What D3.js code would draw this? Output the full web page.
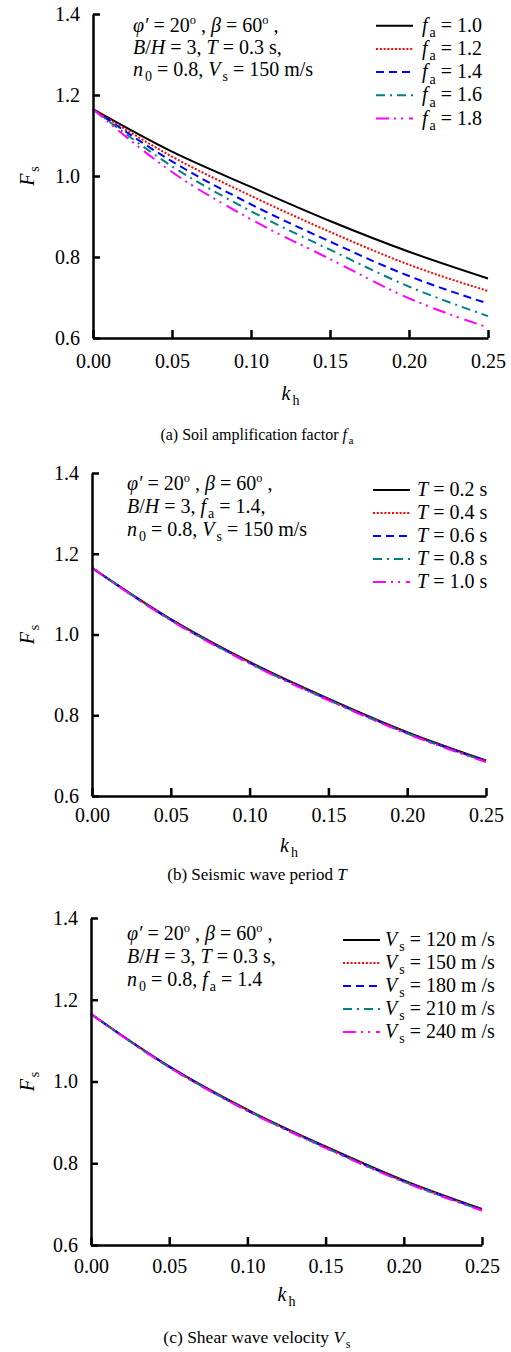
<!DOCTYPE html>
<html>
<head>
<meta charset="utf-8">
<script src="https://cdn.jsdelivr.net/npm/d3@7"></script>
<style>
  html, body { margin: 0; padding: 0; background: #fff; }
  svg { display: block; }
  text { font-family: "Liberation Serif", "Times New Roman", serif; fill: #000; }
</style>
</head>
<body>
<svg id="fig" width="511" height="1352"></svg>
<script>
// Horizontal seismic coefficient k_h (x values shared by every curve)
const kh = [0, 0.05, 0.10, 0.15, 0.20, 0.25];
const xTicks = [0, 0.05, 0.10, 0.15, 0.20, 0.25];
const yTicks = [0.6, 0.8, 1.0, 1.2, 1.4];

// (a) Safety factor Fs for each soil amplification factor fa
const faLabels = ["1.0", "1.2", "1.4", "1.6", "1.8"];
const fsFa10 = [1.165, 1.060, 0.973, 0.889, 0.813, 0.747];
const fsFa12 = [1.165, 1.048, 0.951, 0.862, 0.781, 0.716];
const fsFa14 = [1.165, 1.036, 0.930, 0.838, 0.753, 0.685];
const fsFa16 = [1.165, 1.024, 0.913, 0.818, 0.727, 0.654];
const fsFa18 = [1.165, 1.010, 0.893, 0.795, 0.698, 0.626];

// (b) Safety factor Fs for each seismic wave period T
const periodLabels = ["0.2", "0.4", "0.6", "0.8", "1.0"];
const fsT02 = [1.165, 1.038, 0.932, 0.841, 0.758, 0.688];
const fsT04 = [1.165, 1.037, 0.931, 0.840, 0.757, 0.687];
const fsT06 = [1.165, 1.036, 0.930, 0.839, 0.756, 0.686];
const fsT08 = [1.165, 1.036, 0.929, 0.838, 0.755, 0.685];
const fsT10 = [1.165, 1.035, 0.928, 0.837, 0.754, 0.684];

// (c) Safety factor Fs for each shear wave velocity Vs
const vsLabels = ["120", "150", "180", "210", "240"];
const fsVs120 = [1.165, 1.037, 0.931, 0.841, 0.758, 0.688];
const fsVs150 = [1.165, 1.036, 0.930, 0.840, 0.757, 0.687];
const fsVs180 = [1.165, 1.036, 0.929, 0.839, 0.756, 0.686];
const fsVs210 = [1.165, 1.035, 0.929, 0.838, 0.755, 0.685];
const fsVs240 = [1.165, 1.035, 0.928, 0.837, 0.754, 0.684];

// Line styles, one per series in each panel
const styles = [
  { color: "#000000", dash: null },
  { color: "#ff0000", dash: "2,1.8" },
  { color: "#0000ff", dash: "8,5" },
  { color: "#008080", dash: "9,5,2,5" },
  { color: "#ff00ff", dash: "13,5,2,5,2,6" }
];

const FONT = 20;
const svg = d3.select("#fig");

// Write a line of rich text: segments are [text, kind] with kind "", "i", "sub", "sup"
function richText(g, x, y, segs, size, anchor) {
  const t = g.append("text").attr("x", x).attr("y", y)
    .attr("font-size", size).attr("text-anchor", anchor || "start");
  let shift = 0;
  segs.forEach(([s, kind]) => {
    const sp = t.append("tspan").text(s);
    let target = 0;
    if (kind === "i") sp.attr("font-style", "italic");
    if (kind === "sub") { target = size * 0.27; sp.attr("font-size", size * 0.7).attr("dx", size * 0.1); }
    if (kind === "sup") { target = -size * 0.4; sp.attr("font-size", size * 0.62); }
    if (target !== shift) { sp.attr("dy", target - shift); shift = target; }
  });
  return t;
}

const panels = [
  {
    x0: 93, x1: 488, yTop: 14, yBot: 338, xPad: 16, ylabX: 27, xlabY: 400, capY: 440, capSize: 16,
    series: [fsFa10, fsFa12, fsFa14, fsFa16, fsFa18],
    legend: faLabels.map(v => [["f", "i"], ["a", "sub"], [" = " + v, ""]]),
    legX0: 376, legX1: 413, legTextX: 422, legY0: 25.7, legDy: 23.2,
    noteX: 133, noteY0: 32, noteDy: 22,
    notes: [
      [["φ′", "i"], [" = 20", ""], ["o", "sup"], [" , ", ""], ["β", "i"], [" = 60", ""], ["o", "sup"], [" ,", ""]],
      [["B", "i"], ["/", ""], ["H", "i"], [" = 3, ", ""], ["T", "i"], [" = 0.3 s,", ""]],
      [["n", "i"], ["0", "sub"], [" = 0.8, ", ""], ["V", "i"], ["s", "sub"], [" = 150 m/s", ""]]
    ],
    caption: [["(a) Soil amplification factor ", ""], ["f", "i"], ["a", "sub"]]
  },
  {
    x0: 92, x1: 486, yTop: 473, yBot: 796, xPad: 12, ylabX: 27, xlabY: 852, capY: 880, capSize: 17,
    series: [fsT02, fsT04, fsT06, fsT08, fsT10],
    legend: periodLabels.map(v => [["T", "i"], [" = " + v + " s", ""]]),
    legX0: 373, legX1: 410, legTextX: 417, legY0: 490, legDy: 23,
    noteX: 127, noteY0: 490, noteDy: 23,
    notes: [
      [["φ′", "i"], [" = 20", ""], ["o", "sup"], [" , ", ""], ["β", "i"], [" = 60", ""], ["o", "sup"], [" ,", ""]],
      [["B", "i"], ["/", ""], ["H", "i"], [" = 3, ", ""], ["f", "i"], ["a", "sub"], [" = 1.4,", ""]],
      [["n", "i"], ["0", "sub"], [" = 0.8, ", ""], ["V", "i"], ["s", "sub"], [" = 150 m/s", ""]]
    ],
    caption: [["(b) Seismic wave period ", ""], ["T", "i"]]
  },
  {
    x0: 91, x1: 482, yTop: 918, yBot: 1245, xPad: 14, ylabX: 27, xlabY: 1301, capY: 1343, capSize: 17.5,
    series: [fsVs120, fsVs150, fsVs180, fsVs210, fsVs240],
    legend: vsLabels.map(v => [["V", "i"], ["s", "sub"], [" = " + v + " m /s", ""]]),
    legX0: 343, legX1: 380, legTextX: 385, legY0: 940, legDy: 23,
    noteX: 127, noteY0: 940, noteDy: 23,
    notes: [
      [["φ′", "i"], [" = 20", ""], ["o", "sup"], [" , ", ""], ["β", "i"], [" = 60", ""], ["o", "sup"], [" ,", ""]],
      [["B", "i"], ["/", ""], ["H", "i"], [" = 3, ", ""], ["T", "i"], [" = 0.3 s,", ""]],
      [["n", "i"], ["0", "sub"], [" = 0.8, ", ""], ["f", "i"], ["a", "sub"], [" = 1.4", ""]]
    ],
    caption: [["(c) Shear wave velocity ", ""], ["V", "i"], ["s", "sub"]]
  }
];

panels.forEach(p => {
  const g = svg.append("g");
  const x = d3.scaleLinear().domain([0, 0.25]).range([p.x0, p.x1]);
  const y = d3.scaleLinear().domain([0.6, 1.4]).range([p.yBot, p.yTop]);

  // Curves
  const line = d3.line().x((d, i) => x(kh[i])).y(d => y(d)).curve(d3.curveMonotoneX);
  p.series.forEach((s, i) => {
    g.append("path").datum(s).attr("d", line)
      .attr("fill", "none").attr("stroke", styles[i].color)
      .attr("stroke-width", 2)
      .attr("stroke-dasharray", styles[i].dash);
  });

  // Axes with inward ticks
  const xAxis = d3.axisBottom(x).tickValues(xTicks).tickFormat(d3.format(".2f"))
    .tickSizeInner(-8).tickSizeOuter(0).tickPadding(p.xPad);
  const yAxis = d3.axisLeft(y).tickValues(yTicks).tickFormat(d3.format(".1f"))
    .tickSizeInner(-7).tickSizeOuter(0).tickPadding(13);

  const gx = g.append("g").attr("transform", `translate(0,${p.yBot})`).call(xAxis);
  const gy = g.append("g").attr("transform", `translate(${p.x0},0)`).call(yAxis);
  [gx, gy].forEach(a => {
    a.selectAll("path.domain").attr("stroke", "#000").attr("stroke-width", 2.5);
    a.selectAll(".tick line").attr("stroke", "#000").attr("stroke-width", 2.5);
    a.selectAll(".tick text").attr("font-size", FONT)
      .attr("font-family", "'Liberation Serif', 'Times New Roman', serif").attr("fill", "#000");
  });

  // Axis titles
  richText(g, (p.x0 + p.x1) / 2, p.xlabY, [["k", "i"], ["h", "sub"]], FONT, "middle");
  const yl = g.append("g").attr("transform", `translate(${p.ylabX},${(p.yTop + p.yBot) / 2}) rotate(-90)`);
  richText(yl, 0, 7, [["F", "i"], ["s", "sub"]], FONT, "middle");

  // Parameter note
  p.notes.forEach((segs, i) => richText(g, p.noteX, p.noteY0 + i * p.noteDy, segs, FONT));

  // Legend
  p.legend.forEach((segs, i) => {
    const ly = p.legY0 + i * p.legDy;
    g.append("line").attr("x1", p.legX0).attr("x2", p.legX1).attr("y1", ly).attr("y2", ly)
      .attr("stroke", styles[i].color).attr("stroke-width", 2)
      .attr("stroke-dasharray", styles[i].dash);
    richText(g, p.legTextX, ly + 6, segs, FONT);
  });

  // Caption
  richText(svg, 257, p.capY, p.caption, p.capSize, "middle");
});
</script>
</body>
</html>
